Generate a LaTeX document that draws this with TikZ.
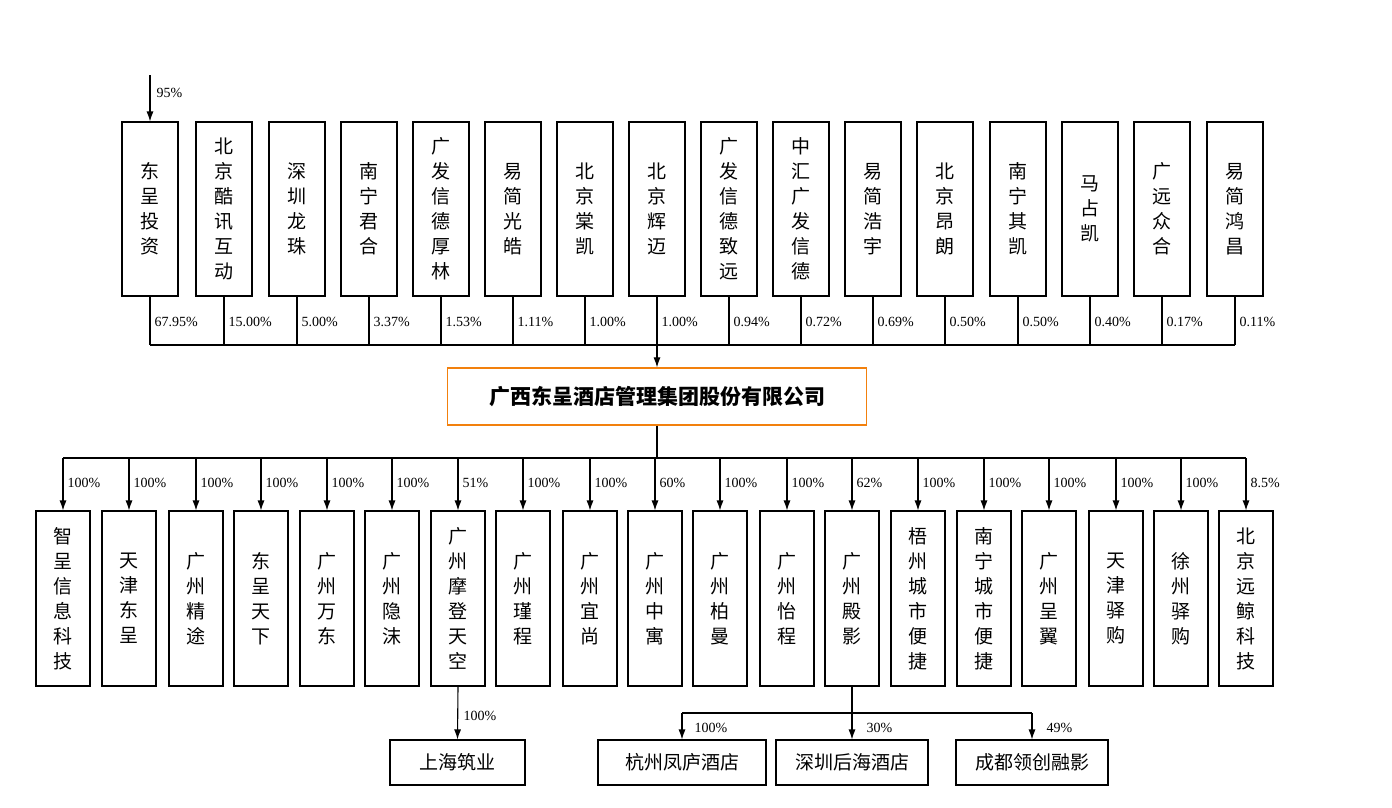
\documentclass[tikz,border=0pt]{standalone}
\usepackage{fontspec}
\setmainfont{Liberation Serif}
\newfontfamily\cjk{Noto Sans CJK SC}
\usetikzlibrary{arrows.meta}
\begin{document}
\begin{tikzpicture}[x=1pt,y=-1pt,line width=1.1pt,
  tb/.style={draw,minimum width=56pt,minimum height=174pt,inner sep=0pt,align=center,font=\cjk\fontsize{19}{25}\selectfont},
  bb/.style={draw,minimum width=54pt,minimum height=175pt,inner sep=0pt,align=center,font=\cjk\fontsize{19}{25}\selectfont},
  sb/.style={draw,minimum height=45pt,inner sep=0pt,font=\cjk\fontsize{19}{24}\selectfont},
  pc/.style={anchor=west,inner sep=1pt,font=\fontsize{14}{16}\selectfont},
  arr/.style={-{Latex[length=10pt,width=7pt]}}]
\useasboundingbox (0,0) rectangle (1392,807);
\fill[white] (0,0) rectangle (1392,807);
% top
\foreach \x/\t/\p [count=\i] in {150/{东\\呈\\投\\资}/67.95\%,224/{北\\京\\酷\\讯\\互\\动}/15.00\%,297/{深\\圳\\龙\\珠}/5.00\%,369/{南\\宁\\君\\合}/3.37\%,441/{广\\发\\信\\德\\厚\\林}/1.53\%,513/{易\\简\\光\\皓}/1.11\%,585/{北\\京\\棠\\凯}/1.00\%,657/{北\\京\\辉\\迈}/1.00\%,729/{广\\发\\信\\德\\致\\远}/0.94\%,801/{中\\汇\\广\\发\\信\\德}/0.72\%,873/{易\\简\\浩\\宇}/0.69\%,945/{北\\京\\昂\\朗}/0.50\%,1018/{南\\宁\\其\\凯}/0.50\%,1090/{马\\占\\凯}/0.40\%,1162/{广\\远\\众\\合}/0.17\%,1235/{易\\简\\鸿\\昌}/0.11\%}{
  \node[tb] (t\i) at (\x,209) {\t};
  \coordinate (tb\i) at (\x,345);
  \draw (t\i.south) -- (tb\i);
  \node[pc] at (\x+3,322) {\p};
}
\draw (tb1) -- (tb16);
\coordinate (in) at (150,75);
\draw[arr] (in) -- (t1.north);
\node[pc] at (155,93) {95\%};
\node[draw=orange!80!brown,line width=1.2pt,minimum width=419pt,minimum height=57pt,font=\cjk\bfseries\fontsize{21}{24}\selectfont] (m) at (657,396.5) {广西东呈酒店管理集团股份有限公司};
\draw[arr] (tb8) -- (m.north);
% bottom
\coordinate (mb) at (657,458);
\draw (m.south) -- (mb);
\foreach \x/\t/\p [count=\i] in {63/{智\\呈\\信\\息\\科\\技}/100\%,129/{天\\津\\东\\呈}/100\%,196/{广\\州\\精\\途}/100\%,261/{东\\呈\\天\\下}/100\%,327/{广\\州\\万\\东}/100\%,392/{广\\州\\隐\\沫}/100\%,458/{广\\州\\摩\\登\\天\\空}/51\%,523/{广\\州\\瑾\\程}/100\%,590/{广\\州\\宜\\尚}/100\%,655/{广\\州\\中\\寓}/60\%,720/{广\\州\\柏\\曼}/100\%,787/{广\\州\\怡\\程}/100\%,852/{广\\州\\殿\\影}/62\%,918/{梧\\州\\城\\市\\便\\捷}/100\%,984/{南\\宁\\城\\市\\便\\捷}/100\%,1049/{广\\州\\呈\\翼}/100\%,1116/{天\\津\\驿\\购}/100\%,1181/{徐\\州\\驿\\购}/100\%,1246/{北\\京\\远\\鲸\\科\\技}/8.5\%}{
  \node[bb] (b\i) at (\x,598.5) {\t};
  \coordinate (bt\i) at (\x,458);
  \draw[arr] (bt\i) -- (b\i.north);
  \node[pc] at (\x+3,483) {\p};
}
\draw (bt1) -- (bt19);
\node[sb,minimum width=135pt] (s1) at (457.5,762.5) {上海筑业};
\draw[arr] (b7.south) -- (s1.north);
\node[pc] at (462,716) {100\%};
\node[sb,minimum width=168pt] (s2) at (682,762.5) {杭州凤庐酒店};
\node[sb,minimum width=152pt] (s3) at (852,762.5) {深圳后海酒店};
\node[sb,minimum width=152pt] (s4) at (1032,762.5) {成都领创融影};
\coordinate (j) at (852,713);
\coordinate (j2) at (682,713);
\coordinate (j4) at (1032,713);
\draw (b13.south) -- (j);
\draw (j2) -- (j4);
\draw[arr] (j2) -- (s2.north);
\draw[arr] (j) -- (s3.north);
\draw[arr] (j4) -- (s4.north);
\node[pc] at (693,728) {100\%};
\node[pc] at (865,728) {30\%};
\node[pc] at (1045,728) {49\%};
\end{tikzpicture}
\end{document}
